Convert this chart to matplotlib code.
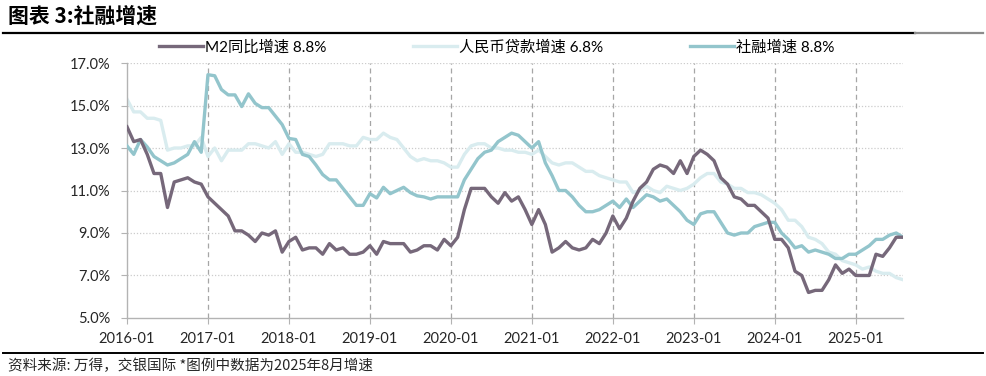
import matplotlib
matplotlib.use("Agg")
import matplotlib.pyplot as plt
from matplotlib.lines import Line2D
import numpy as np

plt.rcParams["font.family"] = ["Lato", "Noto Sans CJK SC", "DejaVu Sans"]

# monthly data, 2016-01 .. 2025-08 (YoY, %)
m2 = [
    14.0, 13.3, 13.4, 12.7, 11.8, 11.8, 10.2, 11.4, 11.5, 11.6, 11.4, 11.3,
    10.7, 10.4, 10.1, 9.8, 9.1, 9.1, 8.9, 8.6, 9.0, 8.9, 9.1, 8.1,
    8.6, 8.8, 8.2, 8.3, 8.3, 8.0, 8.5, 8.2, 8.3, 8.0, 8.0, 8.1,
    8.4, 8.0, 8.6, 8.5, 8.5, 8.5, 8.1, 8.2, 8.4, 8.4, 8.2, 8.7,
    8.4, 8.8, 10.1, 11.1, 11.1, 11.1, 10.7, 10.4, 10.9, 10.5, 10.7, 10.1,
    9.4, 10.1, 9.4, 8.1, 8.3, 8.6, 8.3, 8.2, 8.3, 8.7, 8.5, 9.0,
    9.8, 9.2, 9.7, 10.5, 11.1, 11.4, 12.0, 12.2, 12.1, 11.8, 12.4, 11.8,
    12.6, 12.9, 12.7, 12.4, 11.6, 11.3, 10.7, 10.6, 10.3, 10.3, 10.0, 9.7,
    8.7, 8.7, 8.3, 7.2, 7.0, 6.2, 6.3, 6.3, 6.8, 7.5, 7.1, 7.3,
    7.0, 7.0, 7.0, 8.0, 7.9, 8.3, 8.8, 8.8,
]
loans = [
    15.3, 14.7, 14.7, 14.4, 14.4, 14.3, 12.9, 13.0, 13.0, 13.1, 13.1, 13.5,
    12.6, 13.0, 12.4, 12.9, 12.9, 12.9, 13.2, 13.2, 13.1, 13.0, 13.3, 12.7,
    13.2, 12.8, 12.8, 12.7, 12.6, 12.7, 13.2, 13.2, 13.2, 13.1, 13.1, 13.5,
    13.4, 13.4, 13.7, 13.5, 13.4, 13.0, 12.6, 12.4, 12.5, 12.4, 12.4, 12.3,
    12.1, 12.1, 12.7, 13.1, 13.2, 13.2, 13.0, 13.0, 12.9, 12.9, 12.8, 12.8,
    12.7, 12.9, 12.6, 12.3, 12.2, 12.3, 12.3, 12.1, 11.9, 11.9, 11.7, 11.6,
    11.5, 11.4, 11.4, 10.9, 11.0, 11.2, 11.0, 10.9, 11.2, 11.1, 11.0, 11.1,
    11.3, 11.6, 11.8, 11.8, 11.4, 11.3, 11.1, 11.1, 10.9, 10.9, 10.8, 10.6,
    10.4, 10.1, 9.6, 9.6, 9.3, 8.8, 8.7, 8.5, 8.1, 8.0, 7.7, 7.6,
    7.5, 7.3, 7.4, 7.2, 7.1, 7.1, 6.9, 6.8,
]
tsf = [
    13.1, 12.7, 13.4, 13.05, 12.6, 12.4, 12.2, 12.3, 12.5, 12.7, 13.3, 12.8,
    16.45, 16.4, 15.75, 15.5, 15.5, 14.95, 15.55, 15.1, 14.9, 14.9, 14.5, 14.1,
    13.45, 13.4, 12.7, 12.6, 12.2, 11.75, 11.5, 11.5, 11.1, 10.7, 10.3, 10.3,
    10.85, 10.65, 11.15, 10.85, 11.0, 11.15, 10.9, 10.75, 10.7, 10.6, 10.7, 10.7,
    10.7, 10.7, 11.5, 12.0, 12.5, 12.8, 12.9, 13.3, 13.5, 13.7, 13.6, 13.3,
    13.0, 13.3, 12.3, 11.7, 11.0, 11.0, 10.7, 10.3, 10.0, 10.0, 10.1, 10.3,
    10.5, 10.2, 10.6, 10.2, 10.5, 10.8, 10.7, 10.5, 10.6, 10.3, 10.0, 9.6,
    9.4, 9.9, 10.0, 10.0, 9.5, 9.0, 8.9, 9.0, 9.0, 9.3, 9.4, 9.5,
    9.5, 9.0, 8.7, 8.3, 8.4, 8.1, 8.2, 8.1, 8.0, 7.8, 7.8, 8.0,
    8.0, 8.2, 8.4, 8.7, 8.7, 8.9, 9.0, 8.8,
]
year_labels = ["2016-01", "2017-01", "2018-01", "2019-01", "2020-01",
               "2021-01", "2022-01", "2023-01", "2024-01", "2025-01"]
y_ticks = [5, 7, 9, 11, 13, 15, 17]

c_m2 = "#76687a"
c_loan = "#d9ecef"
c_tsf = "#93c5cc"
grey = "#b3b3b3"

x = np.arange(len(m2))
year_pos = np.arange(len(year_labels)) * 12

fig = plt.figure(figsize=(9.86, 3.76), dpi=100)
ax = fig.add_axes([0.1288, 0.1543, 0.7870, 0.6781])

# ---- grid / year separators ----
for yv in y_ticks[1:]:
    ax.axhline(yv, color="#cccccc", lw=0.9, ls=(0, (1, 1.5)), zorder=0)
for xv in year_pos[1:]:
    ax.axvline(xv, color="#a6a6a6", lw=0.9, ls=(0, (4, 3)), zorder=0)

# ---- series ----
l_loan, = ax.plot(x, loans, color=c_loan, lw=2.4, zorder=2)
l_tsf, = ax.plot(x, tsf, color=c_tsf, lw=2.4, zorder=3)
l_m2, = ax.plot(x, m2, color=c_m2, lw=2.4, zorder=4)

ax.set_xlim(0, len(m2) - 1)
ax.set_ylim(5, 17)
ax.set_yticks(y_ticks)
ax.set_yticklabels([f"{v:.1f}%" for v in y_ticks])
ax.set_xticks(year_pos)
ax.set_xticklabels(year_labels)

for s in ["top", "right"]:
    ax.spines[s].set_visible(False)
for s in ["left", "bottom"]:
    ax.spines[s].set_color(grey)
    ax.spines[s].set_linewidth(1)
ax.tick_params(axis="both", colors=grey, labelcolor="#262626", labelsize=10.5, length=4)
ax.tick_params(axis="y", pad=8)
ax.tick_params(axis="x", pad=6)

# ---- legend ----
fig.legend([l_m2, l_loan, l_tsf],
           ["M2同比增速 8.8%", "人民币贷款增速 6.8%", "社融增速 8.8%"],
           loc="center left", bbox_to_anchor=(0.161, 0.875), ncol=3,
           frameon=False, fontsize=11, handlelength=2.9, handletextpad=0.1,
           columnspacing=5.7, borderpad=0, borderaxespad=0)

# ---- title & rules ----
fig.text(0.008, 0.958, "图表 3:社融增速", fontsize=15, fontweight="bold",
         va="center", ha="left", family=["Noto Sans CJK SC", "DejaVu Sans"])
fig.add_artist(Line2D([0.003, 0.928], [0.912, 0.912], color="black", lw=1.6))
fig.add_artist(Line2D([0.928, 0.997], [0.912, 0.912], color="#8c8c8c", lw=1.6))
fig.add_artist(Line2D([0.003, 0.997], [0.062, 0.062], color="black", lw=1.4))
fig.text(0.008, 0.028, "资料来源: 万得，交银国际 *图例中数据为2025年8月增速",
         fontsize=10.5, va="center", ha="left", color="#262626",
         family=["Noto Sans CJK SC", "DejaVu Sans"])

fig.savefig("out.png", dpi=100)
